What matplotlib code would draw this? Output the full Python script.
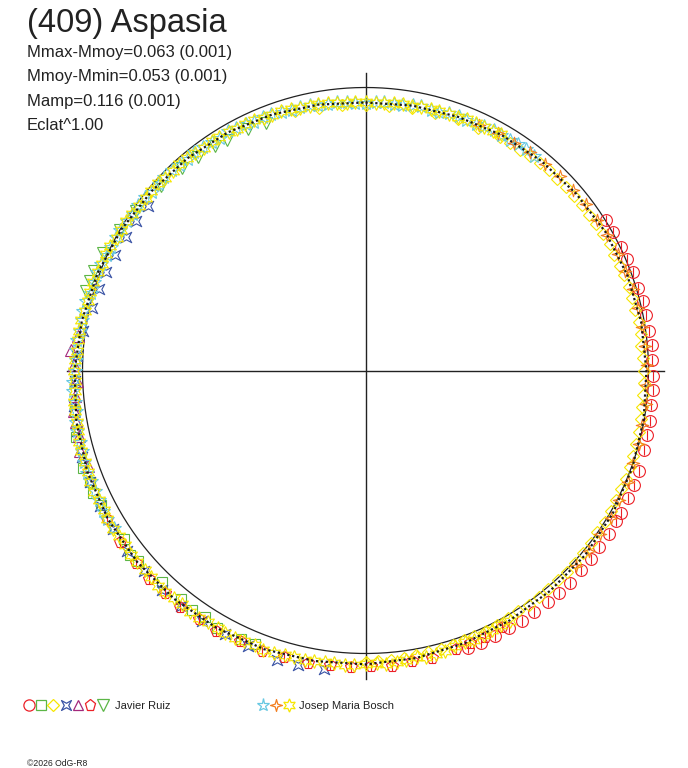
#Polar light curve - (409) Aspasia

import numpy as np
import matplotlib.pyplot as plt
from matplotlib.path import Path

plt.rcParams['font.family'] = ['Liberation Sans', 'DejaVu Sans']

#Data : phase (0-1) and magnitude minus mean magnitude

#Javier Ruiz
ruiz_circle_ph = [.161, .169, .178, .186, .194, .203, .211, .219, .228, .236, .244, .253, .261, .269,
                  .278, .286, .294, .306, .314, .322, .331, .336, .344, .353, .361, .369, .378, .386,
                  .394, .403, .411, .419, .428, .436, .444]
ruiz_circle_dm = [-.001, -.003, -.002, -.006, -.008, -.007, -.011, -.012, -.012, -.016, -.014, -.017, -.018, -.019,
                  -.022, -.024, -.025, -.030, -.033, -.032, -.036, -.034, -.038, -.037, -.041, -.040, -.044, -.043,
                  -.045, -.044, -.046, -.046, -.047, -.049, -.049]

ruiz_square_ph = [.561, .569, .583, .592, .600, .608, .622, .639, .644, .653, .675, .683, .689, .697, .714, .728]
ruiz_square_dm = [-.044, -.047, -.054, -.041, -.048, -.041, -.040, -.051, -.060, -.042, -.052, -.059, -.052, -.058, -.051, -.038]

ruiz_diamond_ph = [.958, .972, .986, .000, .014, .028, .042, .056, .069, .083, .097, .111, .125, .139,
                   .153, .167, .181, .194, .208, .222, .236, .250, .264, .278, .292, .306, .319, .333,
                   .347, .361, .375, .389, .403, .417, .431, .444, .458, .472, .486, .500,
                   .090, .104, .118, .132, .146, .160, .174, .188, .201, .215, .229, .243, .257, .271,
                   .285, .299, .313, .326, .340, .354, .368, .382, .396, .410, .424, .438, .451, .465,
                   .479, .493]
ruiz_diamond_dm = [.056, .063, .066, .070, .069, .064, .066, .060, .061, .054, .053, .047, .048, .042,
                   .041, .035, .034, .028, .027, .022, .023, .018, .017, .012, .011, .006, .006, .001,
                   .002, -.004, -.005, -.006, -.010, -.009, -.015, -.016, -.021, -.024, -.029, -.032,
                   .052, .050, .045, .045, .039, .037, .031, .030, .025, .025, .020, .020, .015, .014,
                   .009, .008, .003, .003, -.001, -.002, -.006, -.006, -.009, -.009, -.013, -.014, -.019, -.021,
                   -.027, -.028]

ruiz_cross_ph = [.522, .536, .547, .564, .578, .592, .606, .619, .633, .647, .661, .675, .689, .703,
                 .717, .731, .744, .758, .772, .786, .797, .808, .819, .831, .842, .853]
ruiz_cross_dm = [-.068, -.072, -.074, -.060, -.058, -.061, -.060, -.062, -.058, -.061, -.057, -.058, -.054, -.050,
                 -.046, -.041, -.030, -.022, -.010, .010, .017, .022, .027, .032, .037, .040]

ruiz_tri_ph = [.697, .706, .714, .722, .728, .736, .744, .753, .761, .769]
ruiz_tri_dm = [-.040, -.050, -.042, -.043, -.041, -.033, -.020, -.034, -.046, -.026]

ruiz_penta_ph = [.422, .433, .442, .450, .464, .475, .486, .497, .508, .519, .531, .544, .556, .569,
                 .583, .594, .606, .617, .628, .639, .653, .667]
ruiz_penta_dm = [-.030, -.033, -.034, -.036, -.044, -.043, -.050, -.047, -.053, -.051, -.057, -.055, -.060, -.058,
                 -.064, -.060, -.064, -.061, -.065, -.060, -.063, -.058]

ruiz_tdown_ph = [.794, .800, .806, .817, .833, .847, .867, .883, .894, .906, .914, .928, .939]
ruiz_tdown_dm = [-.030, -.024, -.024, -.016, .000, .014, .030, .038, .044, .052, .055, .058, .064]

#Josep Maria Bosch
bosch_star_ph = [.661, .672, .683, .694, .706, .717, .728, .739, .750, .761, .772, .783, .794, .806,
                 .817, .828, .839, .850, .861, .872, .883, .894, .906, .917, .928, .939, .950, .961,
                 .972, .983, .994, .006, .017, .028, .039, .050, .061, .072, .083, .094, .106,
                 .667, .678, .689, .700, .711, .722, .733, .744, .756, .767, .778, .789, .800, .811,
                 .822, .833, .844, .856, .867, .878, .889, .900, .911, .922, .933, .944, .956, .967,
                 .978, .989, .000, .011, .022, .033, .044, .056, .067, .078, .089, .100]
bosch_star_dm = [-.053, -.056, -.049, -.052, -.043, -.045, -.036, -.037, -.028, -.029, -.019, -.020, -.010, -.011,
                 -.001, -.001, .008, .008, .017, .015, .023, .022, .030, .028, .037, .036, .045, .044,
                 .053, .051, .060, .055, .059, .052, .055, .049, .052, .043, .045, .038, .040,
                 -.057, -.050, -.047, -.050, -.041, -.043, -.034, -.035, -.026, -.027, -.017, -.018, -.008, -.009,
                 .001, .001, .011, .010, .019, .017, .026, .024, .033, .030, .040, .038, .048, .046,
                 .055, .053, .062, .055, .059, .051, .056, .048, .051, .042, .045, .036]

bosch_four_ph = [.069, .081, .092, .103, .114, .125, .136, .147, .158, .169, .181, .192, .203, .214,
                 .225, .236, .247, .258, .269, .281, .292, .303, .314, .325, .336, .347, .358, .369]
bosch_four_dm = [.049, .043, .043, .037, .038, .032, .033, .027, .027, .023, .018, .019, .014, .014,
                 .010, .011, .006, .007, .002, .003, -.002, -.002, -.007, -.007, -.012, -.011, -.016, -.015]

bosch_six_ph = [.417, .428, .439, .450, .461, .472, .483, .494, .506, .517, .528, .539, .550, .561,
                .572, .583, .594, .606, .617, .628, .639, .650, .661, .672, .683, .694, .706, .717,
                .728, .739, .750, .761, .772, .783, .794, .806, .817, .828, .839, .850, .861, .872,
                .883, .894, .906, .917, .928, .939, .950, .961, .972, .983, .994, .006, .017, .028,
                .039, .050, .061, .072, .083,
                .422, .433, .444, .456, .467, .478, .489, .500, .511, .522, .533, .544, .556, .567,
                .578, .589, .600, .611, .622, .633, .644, .656, .667, .678, .689, .700, .711, .722,
                .733, .744, .756, .767, .778, .789, .800, .811, .822, .833, .844, .856, .867, .878,
                .889, .900, .911, .922, .933, .944, .956, .967, .978, .989, .000, .011, .022, .033,
                .044, .056, .067, .078]
bosch_six_dm = [-.023, -.021, -.028, -.026, -.033, -.032, -.039, -.038, -.044, -.041, -.047, -.045, -.052, -.050,
                -.055, -.052, -.057, -.054, -.058, -.054, -.058, -.053, -.057, -.051, -.053, -.047, -.047, -.040,
                -.040, -.032, -.032, -.024, -.023, -.015, -.014, -.006, -.005, .004, .004, .013, .013, .020,
                .019, .027, .026, .033, .033, .041, .041, .049, .049, .056, .056, .060, .055, .057,
                .051, .054, .048, .048, .041,
                -.020, -.027, -.025, -.031, -.035, -.034, -.041, -.039, -.045, -.042, -.049, -.046, -.054, -.050,
                -.056, -.053, -.058, -.054, -.059, -.053, -.058, -.052, -.057, -.050, -.053, -.045, -.046, -.038,
                -.039, -.030, -.031, -.022, -.021, -.013, -.012, -.004, -.003, .006, .007, .015, .014, .022,
                .021, .029, .028, .035, .035, .043, .043, .051, .050, .058, .057, .060, .054, .056,
                .051, .053, .046, .047]

#Fourier fit, every 10 degrees of phase
fit_deg = [0, 10, 20, 30, 40, 50, 60, 70, 80, 90, 100, 110, 120, 130, 140, 150, 160, 170,
           180, 190, 200, 210, 220, 230, 240, 250, 260, 270, 280, 290, 300, 310, 320, 330, 340, 350]
fit_dm = [.059, .055, .051, .043, .037, .031, .023, .017, .012, .008, .002, -.004, -.010, -.015, -.017, -.021, -.027, -.034,
          -.041, -.045, -.051, -.054, -.056, -.056, -.054, -.049, -.040, -.030, -.019, -.008, .004, .015, .023, .031, .041, .051]

title = "(409) Aspasia"
info_lines = ["Mmax-Mmoy=0.063 (0.001)", "Mmoy-Mmin=0.053 (0.001)", "Mamp=0.116 (0.001)", "Eclat^1.00"]
observers = ["Javier Ruiz", "Josep Maria Bosch"]
ECLAT = 1.0

#Marker shapes
concave_sq = Path([(-1, -1), (0, -0.45), (1, -1), (0.45, 0), (1, 1), (0, 0.45), (-1, 1), (-0.45, 0), (-1, -1)],
                  [1, 2, 2, 2, 2, 2, 2, 2, 79])
four_star = Path([(0, 1), (0.22, 0.22), (1, 0), (0.22, -0.22), (0, -1), (-0.22, -0.22), (-1, 0), (-0.22, 0.22), (0, 1)],
                 [1, 2, 2, 2, 2, 2, 2, 2, 79])

RED = '#ec2027'
GREEN = '#5cb646'
YELLOW = '#f6e600'
BLUE = '#3b54a5'
PURPLE = '#a3287b'
CYAN = '#67c8e2'
ORANGE = '#f37f21'

ruiz_series = [
    (ruiz_circle_ph, ruiz_circle_dm, 'o', RED, 8.5),
    (ruiz_square_ph, ruiz_square_dm, 's', GREEN, 7.5),
    (ruiz_diamond_ph, ruiz_diamond_dm, 'D', YELLOW, 6.5),
    (ruiz_cross_ph, ruiz_cross_dm, concave_sq, BLUE, 7.5),
    (ruiz_tri_ph, ruiz_tri_dm, '^', PURPLE, 8),
    (ruiz_penta_ph, ruiz_penta_dm, 'p', RED, 8.5),
    (ruiz_tdown_ph, ruiz_tdown_dm, 'v', GREEN, 8.5),
]
bosch_series = [
    (bosch_star_ph, bosch_star_dm, '*', CYAN, 10),
    (bosch_four_ph, bosch_four_dm, four_star, ORANGE, 9),
    (bosch_six_ph, bosch_six_dm, (6, 1, 0), YELLOW, 10),
]


def to_xy(phase, dm):
    ang = 2 * np.pi * np.asarray(phase)
    r = (10 ** (-0.4 * np.asarray(dm))) ** ECLAT
    return r * np.sin(ang), r * np.cos(ang)


#Layout (pixels)
W, H = 688, 768
CX, CY, RPX = 365.5, 370.5, 283.0

fig = plt.figure(figsize=(W / 100, H / 100), dpi=100)
ax = fig.add_axes([0, 0, 1, 1])
ax.set_xlim(-CX / RPX, (W - CX) / RPX)
ax.set_ylim(-(H - CY) / RPX, CY / RPX)
ax.axis('off')

#Axes cross and reference circle
ax.plot([-1.055, 1.055], [0, 0], color='#222222', lw=1.0, zorder=1)
ax.plot([0, 0], [-1.09, 1.05], color='#222222', lw=1.0, zorder=1)
t = np.linspace(0, 2 * np.pi, 400)
ax.plot(np.cos(t), np.sin(t), color='#222222', lw=0.9, zorder=1)

#Observations
z = 3
for ph, dm, mk, col, ms in ruiz_series + bosch_series:
    x, y = to_xy(ph, dm)
    ax.plot(x, y, ls='none', marker=mk, ms=ms, mfc='none', mec=col, mew=0.8, zorder=z)
    if col == RED:
        ax.plot(x, y, ls='none', marker='|', ms=ms * 0.9, mec=col, mew=0.8, zorder=z)
    z += 1

#Fit
fx, fy = to_xy(np.array(fit_deg + [360]) / 360, np.array(fit_dm + [fit_dm[0]]))
ax.plot(fx, fy, color='#1a1a1a', lw=1.6, ls=(0, (1, 1.2)), zorder=20)

#Texts
fig.text(27 / W, 1 - 32 / H, title, fontsize=23.5, color='#222222', va='baseline')
for i, s in enumerate(info_lines):
    fig.text(27 / W, 1 - (57 + 24.5 * i) / H, s, fontsize=12, color='#222222', va='baseline')

#Legend
ly = 1 - 705 / H
ruiz_lx = [29, 41, 53, 66, 78, 90, 103]
bosch_lx = [263, 276, 289]
for (ph, dm, mk, col, ms), lx in zip(ruiz_series, ruiz_lx):
    ax.plot([lx / W], [ly], transform=ax.transAxes, ls='none', marker=mk, ms=ms * 0.95,
            mfc='none', mec=col, mew=0.9, clip_on=False)
for (ph, dm, mk, col, ms), lx in zip(bosch_series, bosch_lx):
    ax.plot([lx / W], [ly], transform=ax.transAxes, ls='none', marker=mk, ms=ms * 0.95,
            mfc='none', mec=col, mew=0.9, clip_on=False)
fig.text(115 / W, 1 - 709 / H, observers[0], fontsize=8, color='#222222', va='baseline')
fig.text(299 / W, 1 - 709 / H, observers[1], fontsize=8, color='#222222', va='baseline')

fig.text(27 / W, 1 - 766 / H, "\u00a92026 OdG-R8", fontsize=6.2, color='#222222', va='baseline')

fig.savefig('out.png', dpi=100)
